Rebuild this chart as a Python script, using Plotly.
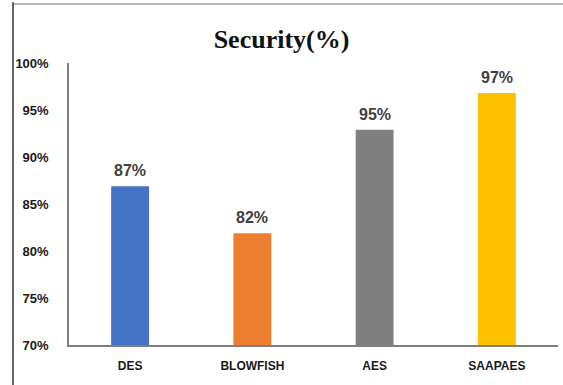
import plotly.graph_objects as go

categories = ["DES", "BLOWFISH", "AES", "SAAPAES"]
values = [86.9, 81.9, 92.9, 96.8]
labels = ["87%", "82%", "95%", "97%"]
colors = ["#4472C4", "#ED7D31", "#7F7F7F", "#FFC000"]
yticks = [70, 75, 80, 85, 90, 95, 100]
ytick_text = ["70%", "75%", "80%", "85%", "90%", "95%", "100%"]

fig = go.Figure()
fig.add_trace(go.Bar(
    x=categories, y=values, marker=dict(color=colors, line=dict(width=0)),
    width=0.31, hoverinfo="skip",
))

for c, v, t in zip(categories, values, labels):
    fig.add_annotation(x=c, y=v, text=t, showarrow=False, yanchor="bottom", yshift=5,
                       font=dict(family="Liberation Sans", size=16, color="#404040", weight="bold"))

fig.update_layout(
    width=563, height=385,
    margin=dict(l=69, r=5, t=63, b=40),
    paper_bgcolor="white", plot_bgcolor="white",
    showlegend=False,
    title=dict(text="Security(%)", x=0.5, xref="container", xanchor="center",
               y=1 - 39 / 385, yref="container", yanchor="middle",
               font=dict(family="Liberation Serif", size=26, color="#111111", weight="bold")),
    xaxis=dict(showgrid=False, showline=True, linecolor="#7F7F7F", linewidth=1.5,
               ticks="", ticklabelstandoff=9,
               tickfont=dict(family="Liberation Sans", size=12, color="#1a1a1a", weight="bold")),
    yaxis=dict(range=[70, 100], tickvals=yticks, ticktext=ytick_text, showgrid=False,
               showline=True, linecolor="#7F7F7F", linewidth=1.5, ticks="", zeroline=False,
               ticklabelstandoff=16,
               tickfont=dict(family="Liberation Sans", size=13, color="#1a1a1a", weight="bold")),
    shapes=[
        dict(type="line", xref="paper", yref="paper", x0=-0.1145, x1=1.02, y0=1.209, y1=1.209,
             line=dict(color="#9E9E9E", width=1.5)),
        dict(type="line", xref="paper", yref="paper", x0=-0.1145, x1=-0.1145, y0=-0.15, y1=1.215,
             line=dict(color="#333333", width=1.5)),
    ],
)

fig.write_html("out.html")
